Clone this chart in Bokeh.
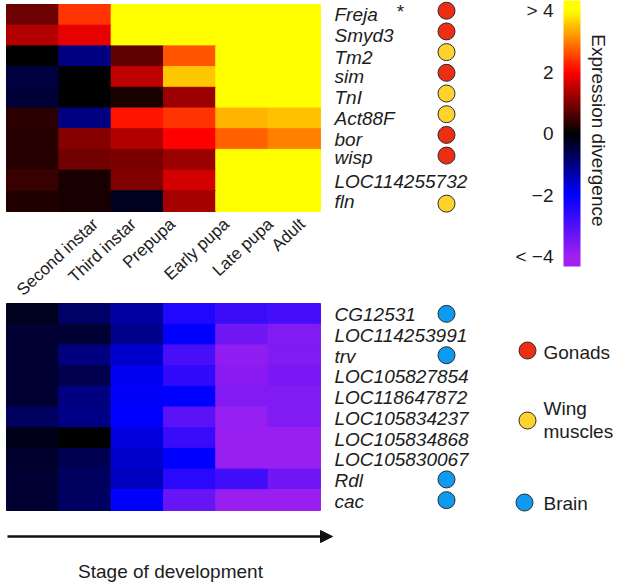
import numpy as np
from bokeh.core.properties import value
from bokeh.embed import file_html
from bokeh.resources import INLINE
from bokeh.plotting import figure
from bokeh.models import (Range1d, LinearColorMapper, ColorBar, FixedTicker, Arrow, NormalHead,
                          ColumnDataSource, Label)
from bokeh.transform import transform

stages = ["Second instar", "Third instar", "Prepupa", "Early pupa", "Late pupa", "Adult"]
genes_up = ["Freja", "Smyd3", "Tm2", "sim", "TnI", "Act88F", "bor", "wisp", "LOC114255732", "fln"]
genes_down = ["CG12531", "LOC114253991", "trv", "LOC105827854", "LOC118647872",
              "LOC105834237", "LOC105834868", "LOC105830067", "Rdl", "cac"]

values_up = [
    [0.85, 2.40, 4.30, 4.30, 4.30, 4.30],
    [1.40, 1.80, 4.30, 4.30, 4.30, 4.30],
    [0.00, -1.00, 0.75, 2.65, 4.30, 4.30],
    [-0.50, 0.00, 1.50, 3.55, 4.30, 4.30],
    [-0.45, 0.00, 0.20, 1.20, 4.30, 4.30],
    [0.33, -1.00, 2.15, 2.40, 3.40, 3.50],
    [0.30, 1.05, 1.40, 2.00, 2.75, 3.00],
    [0.30, 0.90, 0.95, 1.20, 4.30, 4.30],
    [0.45, 0.20, 1.00, 1.65, 4.30, 4.30],
    [0.27, 0.20, -0.25, 1.30, 4.30, 4.30],
]
values_down = [
    [-0.25, -0.80, -1.25, -2.40, -2.75, -2.85],
    [-0.40, -0.40, -1.10, -2.00, -3.40, -3.60],
    [-0.40, -1.00, -1.60, -2.90, -3.80, -3.60],
    [-0.40, -0.60, -1.90, -2.60, -3.70, -3.50],
    [-0.40, -1.00, -1.95, -2.00, -3.60, -3.60],
    [-0.75, -1.05, -2.00, -3.15, -3.85, -3.60],
    [-0.20, 0.00, -1.75, -2.70, -3.90, -3.90],
    [-0.35, -0.65, -1.60, -2.00, -3.90, -3.90],
    [-0.40, -0.75, -1.50, -2.50, -2.80, -3.40],
    [-0.40, -0.75, -2.00, -3.30, -3.90, -3.90],
]
# tissue of enriched expression per gene (None = no marker)
tissue_up = ["Gonads", "Gonads", "Wing muscles", "Gonads", "Wing muscles", "Wing muscles",
             "Gonads", "Gonads", None, "Wing muscles"]
tissue_down = ["Brain", None, "Brain", None, None, None, None, None, "Brain", "Brain"]
legend_tissues = ["Gonads", "Wing muscles", "Brain"]
cbar_ticks = [4, 2, 0, -2, -4]
cbar_tick_labels = ["> 4", "2", "0", "\u22122", "< \u22124"]

# ---- styling and layout -----------------------------------------------------
W, H = 620, 586
TISSUE_COLORS = {"Gonads": "#ee2e12", "Wing muscles": "#ffd22e", "Brain": "#0d9bf2"}
TXT = "#1c1c1c"
FONT = "Liberation Sans"
FS = "19px"
HM_LEFT, CELL_W, CELL_H = 6.0, 52.33, 20.7
TOP_Y, BOT_Y = 4.0, 303.0
VMAX = 4.32


def ramp():
    stops = [(-4.0, (160, 32, 240)), (-2.0, (0, 0, 255)), (0.0, (0, 0, 0)),
             (2.0, (255, 0, 0)), (3.0, (255, 128, 0)), (4.0, (255, 255, 0))]
    xs = np.linspace(-VMAX, VMAX, 512)
    xp = [s[0] for s in stops]
    out = []
    for x in xs:
        c = [int(round(np.interp(x, xp, [s[1][k] for s in stops]))) for k in range(3)]
        out.append("#%02x%02x%02x" % tuple(c))
    return out


mapper = LinearColorMapper(palette=ramp(), low=-VMAX, high=VMAX)

p = figure(width=W, height=H, x_range=Range1d(0, W), y_range=Range1d(H, 0),
           output_backend="svg", toolbar_location=None, min_border=0,
           outline_line_color=None, background_fill_color="white", border_fill_color="white")
p.axis.visible = False
p.grid.visible = False

p.extra_x_ranges["stage"] = Range1d(-HM_LEFT / CELL_W, (W - HM_LEFT) / CELL_W)
p.extra_y_ranges["up"] = Range1d((H - TOP_Y) / CELL_H, -TOP_Y / CELL_H)
p.extra_y_ranges["down"] = Range1d((H - BOT_Y) / CELL_H, -BOT_Y / CELL_H)
CB_ZERO, CB_UNIT = 133.0, 30.75
p.extra_y_ranges["cbar"] = Range1d((CB_ZERO - H) / CB_UNIT, CB_ZERO / CB_UNIT)


def heatmap(values, rng):
    arr = np.array(values)
    rows, cols = np.indices(arr.shape)
    src = ColumnDataSource(dict(x=cols.ravel() + 0.5, y=rows.ravel() + 0.5, v=arr.ravel()))
    col = transform("v", mapper)
    p.rect("x", "y", 1, 1, source=src, x_range_name="stage", y_range_name=rng,
           fill_color=col, line_color=col, line_width=1)


heatmap(values_up, "up")
heatmap(values_down, "down")

GENE_X, DOT_X = 334, 446
DOT_SIZE = 17
F = value(FONT)


def gene_column(genes, tissues, rng, text_nudge, dot_nudge):
    n = len(genes)
    p.text([GENE_X] * n, [i + 0.5 + text_nudge[i] for i in range(n)], text=genes, y_range_name=rng,
           text_font=F, text_font_style="italic", text_font_size=FS, text_color=TXT,
           text_align="left", text_baseline="middle")
    idx = [i for i, t in enumerate(tissues) if t]
    p.scatter([DOT_X] * len(idx), [i + 0.5 + dot_nudge[i] for i in idx], y_range_name=rng, size=DOT_SIZE,
              fill_color=[TISSUE_COLORS[tissues[i]] for i in idx], line_color="#2a2a2a", line_width=1)


gene_column(genes_up, tissue_up, "up",
            [0, 0, 0.05, 0, 0, 0, 0, -0.1, 0.05, 0],
            [-0.2, -0.2, -0.2, -0.2, -0.2, -0.2, -0.2, -0.2, 0, 0.12])
gene_column(genes_down, tissue_down, "down", [0.05] * 10, [0] * 10)

p.add_layout(Label(x=400, y=11, text="*", text_font=FONT, text_font_size=FS, text_color=TXT,
                   text_align="center", text_baseline="middle"))

# stage labels, rotated
stage_anchor_x = [95, 133, 172, 226, 270, 302]
p.text(stage_anchor_x, [221] * 6, text=stages, angle=43, angle_units="deg", text_font=F,
       text_font_size="17px", text_color=TXT, text_align="right", text_baseline="middle")

# colour bar
cb = ColorBar(color_mapper=mapper, width=17, height=266, location=(563, H - 266), padding=0,
              ticker=FixedTicker(ticks=[]), major_tick_line_color=None, bar_line_color=None,
              major_label_text_font_size="0px", border_line_color=None, background_fill_color=None,
              margin=0)
p.add_layout(cb)
p.text([553] * 5, cbar_ticks, text=cbar_tick_labels, y_range_name="cbar", text_font=F,
       text_font_size=FS, text_color=TXT, text_align="right", text_baseline="middle")
p.text([598], [0.1], text=["Expression divergence"], y_range_name="cbar", angle=-90, angle_units="deg",
       text_font=F, text_font_size=FS, text_color=TXT, text_align="center", text_baseline="middle")

# tissue legend
p.scatter([527, 527, 524], [350, 420, 502], size=DOT_SIZE,
          fill_color=[TISSUE_COLORS[t] for t in legend_tissues], line_color="#2a2a2a", line_width=1)
p.text([543, 543, 543, 543], [352, 408, 431, 503], text=["Gonads", "Wing", "muscles", "Brain"],
       text_font=F, text_font_size=FS, text_color=TXT, text_align="left", text_baseline="middle")

# development arrow
p.add_layout(Arrow(end=NormalHead(size=12, fill_color="#111111", line_color="#111111"),
                   x_start=7, y_start=536, x_end=332, y_end=536, line_width=2.5, line_color="#111111"))
p.text([170], [571], text=["Stage of development"], text_font=F, text_font_size=FS, text_color=TXT,
       text_align="center", text_baseline="middle")

open("out.html", "w").write(file_html(p, INLINE))
